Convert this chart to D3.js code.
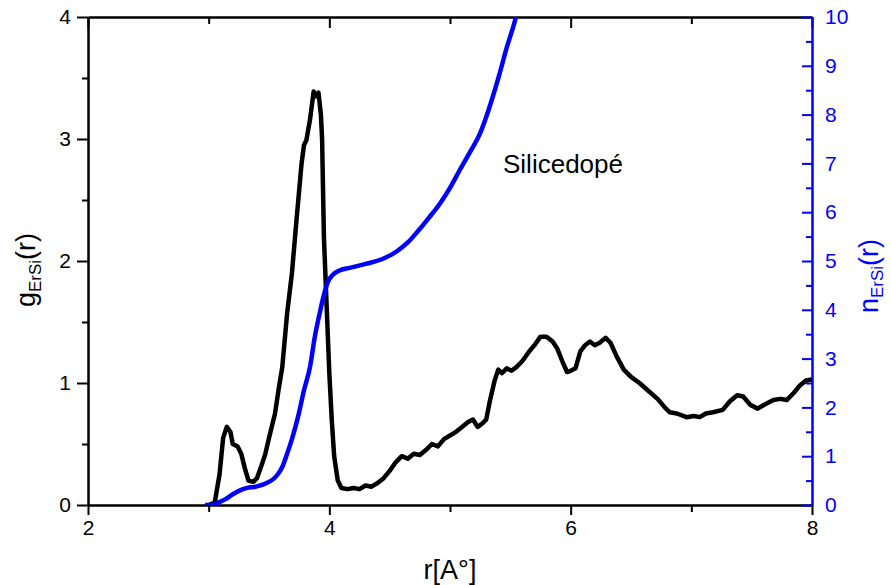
<!DOCTYPE html>
<html>
<head>
<meta charset="utf-8">
<script src="https://cdn.jsdelivr.net/npm/d3@7"></script>
<style>
  body { margin: 0; background: #fff; }
  text { font-family: "Liberation Sans", Arial, sans-serif; }
</style>
</head>
<body>
<script>
// g(r) pair distribution
let gR = [3.00, 3.05, 3.09, 3.12, 3.15, 3.18, 3.20, 3.24, 3.27, 3.30, 3.33, 3.37, 3.40, 3.44, 3.47, 3.50,
    3.53, 3.55, 3.58, 3.61, 3.65, 3.69, 3.73, 3.77, 3.79, 3.81, 3.84, 3.87, 3.89, 3.91, 3.93, 3.94, 3.955,
    3.98, 4.00, 4.02, 4.04, 4.07, 4.10, 4.15, 4.20, 4.25, 4.30, 4.35, 4.40, 4.45, 4.50, 4.55, 4.60, 4.65,
    4.70, 4.75, 4.80, 4.85, 4.90, 4.95, 5.00, 5.05, 5.10, 5.15, 5.19, 5.23, 5.27, 5.30, 5.33, 5.37, 5.40,
    5.43, 5.47, 5.51, 5.55, 5.60, 5.65, 5.70, 5.75, 5.80, 5.85, 5.89, 5.93, 5.97, 6.00, 6.04, 6.08, 6.12,
    6.16, 6.20, 6.24, 6.29, 6.33, 6.38, 6.44, 6.50, 6.57, 6.65, 6.72, 6.78, 6.82, 6.88, 6.96, 7.02, 7.07,
    7.12, 7.18, 7.26, 7.32, 7.38, 7.43, 7.49, 7.55, 7.60, 7.68, 7.74, 7.79, 7.85, 7.90, 7.95, 8.00];
let gVal = [0.00, 0.02, 0.25, 0.55, 0.64, 0.60, 0.50, 0.48, 0.42, 0.30, 0.20, 0.19, 0.22, 0.33, 0.42, 0.55,
    0.67, 0.75, 0.95, 1.13, 1.57, 1.90, 2.36, 2.80, 2.95, 2.99, 3.16, 3.39, 3.35, 3.38, 3.20, 3.00, 2.20,
    1.57, 1.08, 0.70, 0.40, 0.20, 0.14, 0.13, 0.14, 0.13, 0.16, 0.15, 0.18, 0.22, 0.28, 0.35, 0.40, 0.38,
    0.42, 0.41, 0.45, 0.50, 0.48, 0.54, 0.57, 0.60, 0.64, 0.68, 0.70, 0.64, 0.67, 0.70, 0.85, 1.02, 1.11,
    1.08, 1.12, 1.10, 1.13, 1.18, 1.25, 1.31, 1.38, 1.38, 1.34, 1.28, 1.18, 1.09, 1.10, 1.12, 1.26, 1.31,
    1.34, 1.31, 1.33, 1.37, 1.33, 1.22, 1.11, 1.05, 1.00, 0.93, 0.87, 0.80, 0.76, 0.75, 0.72, 0.73, 0.72,
    0.75, 0.76, 0.78, 0.85, 0.90, 0.89, 0.82, 0.79, 0.82, 0.86, 0.87, 0.86, 0.92, 0.98, 1.02, 1.03];

// n(r) running coordination number
let nR = [2.97, 3.03, 3.08, 3.14, 3.20, 3.26, 3.32, 3.38, 3.43, 3.48, 3.53, 3.57, 3.61, 3.65, 3.69, 3.74,
    3.79, 3.84, 3.88, 3.92, 3.96, 3.99, 4.03, 4.08, 4.17, 4.30, 4.45, 4.56, 4.65, 4.73, 4.82, 4.92, 5.00,
    5.08, 5.17, 5.25, 5.30, 5.35, 5.41, 5.47, 5.53, 5.60];
let nVal = [0, 0, 0.05, 0.12, 0.22, 0.30, 0.35, 0.37, 0.40, 0.45, 0.52, 0.62, 0.78, 1.05, 1.35, 1.80,
    2.35, 2.83, 3.45, 3.93, 4.35, 4.58, 4.72, 4.80, 4.86, 4.94, 5.05, 5.20, 5.38, 5.60, 5.87, 6.19, 6.50,
    6.86, 7.25, 7.62, 7.95, 8.33, 8.83, 9.37, 9.85, 10.5];

let xTicks = [2, 4, 6, 8];
let xMinor = [3, 5, 7];
let gTicks = [0, 1, 2, 3, 4];
let gMinor = [0.5, 1.5, 2.5, 3.5];
let nTicks = [0, 1, 2, 3, 4, 5, 6, 7, 8, 9, 10];
let nMinor = [0.5, 1.5, 2.5, 3.5, 4.5, 5.5, 6.5, 7.5, 8.5, 9.5];

function main() {
    let svg = d3.select("body").append("svg")
        .attr("width", 891)
        .attr("height", 585);

    let x0 = 88, x1 = 812, y0 = 505, y1 = 17;
    let xScale = d3.scaleLinear().domain([2, 8]).range([x0, x1]);
    let gScale = d3.scaleLinear().domain([0, 4]).range([y0, y1]);
    let nScale = d3.scaleLinear().domain([0, 10]).range([y0, y1]);
    let blue = "#0000ff";
    let fmt = d3.format("d");

    svg.append("defs").append("clipPath").attr("id", "plot")
        .append("rect").attr("x", x0).attr("y", y1).attr("width", x1 - x0).attr("height", y0 - y1);

    function styleAxis(g, color) {
        g.selectAll("path").attr("stroke", color).attr("stroke-width", 2);
        g.selectAll("line").attr("stroke", color).attr("stroke-width", 2);
        g.selectAll("text").attr("fill", color).style("font-size", "21px")
            .style("font-family", "'Liberation Sans', Arial, sans-serif");
    }

    // top frame with inward ticks
    let top = svg.append("g").attr("transform", `translate(0,${y1})`)
        .call(d3.axisTop(xScale).tickValues(xTicks).tickSize(-11).tickSizeOuter(0).tickFormat(""));
    styleAxis(top, "#000");
    let topMinor = svg.append("g").attr("transform", `translate(0,${y1})`)
        .call(d3.axisTop(xScale).tickValues(xMinor).tickSize(-7).tickSizeOuter(0).tickFormat(""));
    styleAxis(topMinor, "#000");

    // bottom axis
    let bottom = svg.append("g").attr("transform", `translate(0,${y0})`)
        .call(d3.axisBottom(xScale).tickValues(xTicks).tickSize(10).tickSizeOuter(0).tickPadding(5).tickFormat(fmt));
    styleAxis(bottom, "#000");
    let bottomMinor = svg.append("g").attr("transform", `translate(0,${y0})`)
        .call(d3.axisBottom(xScale).tickValues(xMinor).tickSize(7).tickSizeOuter(0).tickFormat(""));
    styleAxis(bottomMinor, "#000");

    // left axis g(r)
    let left = svg.append("g").attr("transform", `translate(${x0},0)`)
        .call(d3.axisLeft(gScale).tickValues(gTicks).tickSize(11).tickSizeOuter(0).tickPadding(6).tickFormat(fmt));
    styleAxis(left, "#000");
    let leftMinor = svg.append("g").attr("transform", `translate(${x0},0)`)
        .call(d3.axisLeft(gScale).tickValues(gMinor).tickSize(6).tickSizeOuter(0).tickFormat(""));
    styleAxis(leftMinor, "#000");

    // right axis n(r), ticks pointing inward
    let right = svg.append("g").attr("transform", `translate(${x1},0)`)
        .call(d3.axisRight(nScale).tickValues(nTicks).tickSize(-10).tickSizeOuter(0).tickPadding(13).tickFormat(fmt));
    styleAxis(right, blue);
    let rightMinor = svg.append("g").attr("transform", `translate(${x1},0)`)
        .call(d3.axisRight(nScale).tickValues(nMinor).tickSize(-6).tickSizeOuter(0).tickFormat(""));
    styleAxis(rightMinor, blue);

    let plot = svg.append("g").attr("clip-path", "url(#plot)");

    let gLine = d3.line()
        .x((d, i) => xScale(gR[i]))
        .y(d => gScale(d));
    plot.append("path")
        .attr("d", gLine(gVal))
        .attr("fill", "none")
        .attr("stroke", "#000")
        .attr("stroke-width", 4.5)
        .attr("stroke-linejoin", "round");

    let nLine = d3.line()
        .x((d, i) => xScale(nR[i]))
        .y(d => nScale(d))
        .curve(d3.curveMonotoneX);
    plot.append("path")
        .attr("d", nLine(nVal))
        .attr("fill", "none")
        .attr("stroke", blue)
        .attr("stroke-width", 4.5);

    // titles
    let gt = svg.append("text")
        .attr("transform", "translate(35, 270) rotate(-90)")
        .attr("text-anchor", "middle")
        .style("font-size", "27px");
    gt.append("tspan").text("g");
    gt.append("tspan").attr("dy", 6).style("font-size", "17px").text("ErSi");
    gt.append("tspan").attr("dy", -6).text("(r)");

    let nt = svg.append("text")
        .attr("transform", "translate(878, 276) rotate(-90)")
        .attr("text-anchor", "middle")
        .attr("fill", blue)
        .style("font-size", "27px");
    nt.append("tspan").text("n");
    nt.append("tspan").attr("dy", 5).style("font-size", "17px").text("ErSi");
    nt.append("tspan").attr("dy", -5).text("(r)");

    svg.append("text")
        .attr("x", 450)
        .attr("y", 579)
        .attr("text-anchor", "middle")
        .style("font-size", "27px")
        .text("r[A°]");

    svg.append("text")
        .attr("x", 503)
        .attr("y", 173)
        .style("font-size", "26px")
        .text("Silicedopé");
}

main()
</script>
</body>
</html>
